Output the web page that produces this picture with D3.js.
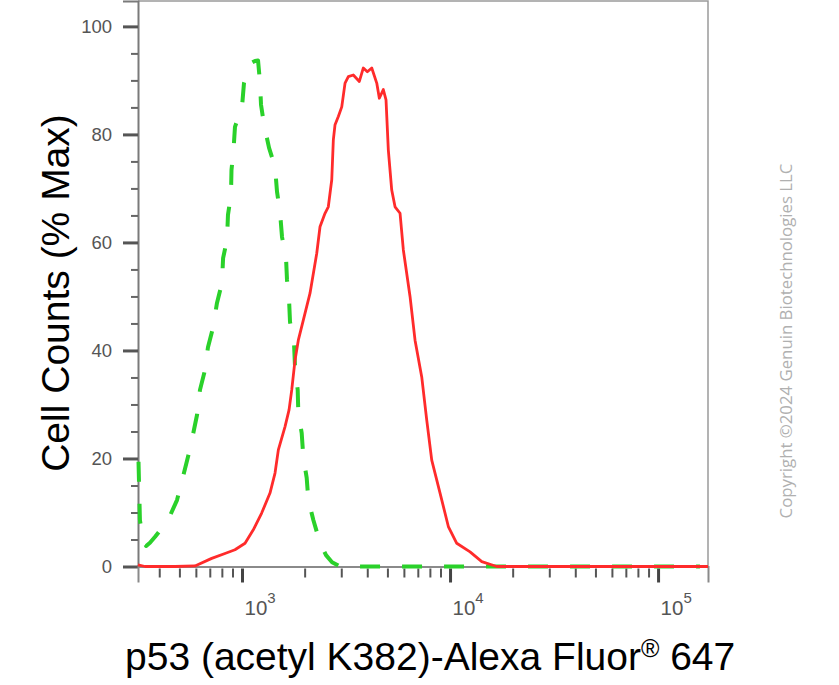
<!DOCTYPE html>
<html><head><meta charset="utf-8">
<script src="https://cdn.jsdelivr.net/npm/d3@7"></script>
<style>body{margin:0;background:#fff}</style>
</head><body><svg id="c" width="839" height="685"></svg>
<script>
// Isotype control (green dashed)
const greenIntensity = [318,323,334,346,361,382,441,487,520,550,581,608,628,664,686,725,758,801,811,847,856,885,890,910,925,1000,1022,1105,1155,1194,1220,1234,1276,1349,1441,1473,1523,1557,1627,1645,1683,1701,1778,1798,1852,1865,1936,1971,2046,2084,2202,2371,2534,2709,2959,159000];
const greenPercent   = [19.4,8.6,4.9,3.8,4.4,5.5,8.6,12.3,16.6,20.3,24.4,28.1,32.7,36.4,40.6,44.2,48.8,52.5,57.1,60.5,65.1,68.8,73.4,77.1,81.4,85.1,89.5,93.2,93.6,93.7,89.7,85.5,81.8,77.5,74.0,69.4,65.6,61.0,57.3,53.1,49.4,45.3,41.4,36.9,32.7,28.4,24.7,20.3,16.4,12.3,8.6,4.4,2.1,0.8,0,0];
// p53 (acetyl K382) stained (red)
const redIntensity = [316,342,476,594,715,828,925,1034,1133,1243,1363,1441,1495,1610,1683,1734,1798,1865,1971,2123,2287,2371,2506,2599,2700,2748,2800,2904,3016,3128,3244,3428,3664,3830,4004,4204,4443,4572,4778,4923,5051,5244,5440,5750,5964,6422,6788,7310,7727,8166,8953,9813,10770,12480,14210,16770,173800];
const redPercent   = [0.3,0,0,0.1,1.5,2.4,3.1,4.3,6.8,9.9,13.6,17.3,21.6,25.9,29.0,32.7,38.2,41.9,45.6,50.6,58.0,62.9,65.4,66.6,71.6,79.0,81.8,83.3,85.1,89.5,90.7,91.0,89.8,92.3,91.6,92.3,89.5,86.7,88.3,86.4,77.1,69.7,66.6,65.4,58.6,50.0,41.9,35.1,27.1,19.7,13.6,7.4,4.3,2.7,0.9,0,0];

const yMajorTicks = [0,20,40,60,80,100];
const yMinorTicks = [5,10,15,25,30,35,45,50,55,65,70,75,85,90,95];
const xMajorTicks = [1e3,1e4,1e5];
const xTickExponents = ["3","4","5"];
const xMinorTicks = [400,500,600,700,800,900,2000,3000,4000,5000,6000,7000,8000,9000,20000,30000,40000,50000,60000,70000,80000,90000];
const yTitle = "Cell Counts (% Max)";
const xTitleMain = "p53 (acetyl K382)-Alexa Fluor";
const xTitleSup = "®";
const xTitleEnd = " 647";
const copyright = "Copyright ©2024 Genuin Biotechnologies LLC";

const svg = d3.select("#c");
const L = 138, R = 708, T = 1, B = 566.5;
const x = d3.scaleLog().domain([316.2, 173800]).range([L, R]);
const y = d3.scaleLinear().domain([0, 104.7]).range([B, T]);

// frame (top & right)
svg.append("path")
  .attr("d", `M${L},${T}H${R}V${B}`)
  .attr("fill","none").attr("stroke","#9a9a9a").attr("stroke-width",1.5);

// Y axis
const yAxis = svg.append("g").attr("transform",`translate(${L},0)`)
  .call(d3.axisLeft(y).tickValues(yMajorTicks).tickSize(15).tickPadding(11).tickFormat(d3.format("d")));
yAxis.select(".domain").attr("stroke","#7a7a7a").attr("stroke-width",2);
yAxis.selectAll(".tick line").attr("stroke","#555").attr("stroke-width",3);
yAxis.selectAll(".tick text").attr("fill","#555").attr("font-family","Liberation Sans, Arial, sans-serif").attr("font-size",18.5);
const yMinor = svg.append("g").attr("transform",`translate(${L},0)`)
  .call(d3.axisLeft(y).tickValues(yMinorTicks).tickSize(7).tickFormat(""));
yMinor.select(".domain").remove();
yMinor.selectAll(".tick line").attr("stroke","#666").attr("stroke-width",2);

// X axis
const xAxis = svg.append("g").attr("transform",`translate(0,${B})`)
  .call(d3.axisBottom(x).tickValues(xMajorTicks).tickSize(16).tickFormat(""));
xAxis.select(".domain").attr("stroke","#8a8a8a").attr("stroke-width",2);
xAxis.selectAll(".tick line").attr("stroke","#444").attr("stroke-width",3).attr("y1",2);
xAxis.selectAll(".tick").each(function(d,i){
  const t = d3.select(this).append("text")
    .attr("x",2).attr("y",48).attr("text-anchor","start")
    .attr("fill","#555").attr("font-family","Liberation Sans, Arial, sans-serif").attr("font-size",20.5);
  t.append("tspan").text("10");
  t.append("tspan").attr("font-size",15).attr("dy",-12).text(xTickExponents[i]);
});
const xMinor = svg.append("g").attr("transform",`translate(0,${B})`)
  .call(d3.axisBottom(x).tickValues(xMinorTicks).tickSize(11).tickFormat(""));
xMinor.select(".domain").remove();
xMinor.selectAll(".tick line").attr("stroke","#555").attr("stroke-width",2).attr("y1",2);

// curves
const line = d3.line().x(d=>x(d[0])).y(d=>y(d[1]));
const greenData = greenIntensity.map((v,i)=>[v,greenPercent[i]]);
const redData = redIntensity.map((v,i)=>[v,redPercent[i]]);
svg.append("path").datum(greenData).attr("d",line)
  .attr("fill","none").attr("stroke","#2ad12a").attr("stroke-width",4)
  .attr("stroke-dasharray","20,22").attr("stroke-linejoin","round");
svg.append("path").datum(redData).attr("d",line)
  .attr("fill","none").attr("stroke","#ff2b2b").attr("stroke-width",2.8)
  .attr("stroke-linejoin","round");

// axis titles
svg.append("text")
  .attr("transform","translate(69,293) rotate(-90)")
  .attr("text-anchor","middle").attr("fill","#000")
  .attr("font-family","Liberation Sans, Arial, sans-serif").attr("font-size",39)
  .text(yTitle);
const xt = svg.append("text").attr("x",125).attr("y",670)
  .attr("fill","#000").attr("font-family","Liberation Sans, Arial, sans-serif").attr("font-size",39);
xt.append("tspan").text(xTitleMain);
xt.append("tspan").attr("font-size",25).attr("dy",-13).text(xTitleSup);
xt.append("tspan").attr("dy",13).text(xTitleEnd);

// copyright
svg.append("text")
  .attr("transform","translate(792,341) rotate(-90)")
  .attr("text-anchor","middle").attr("fill","#b0b0b0")
  .attr("font-family","Open Sans, sans-serif").attr("font-size",16.8)
  .text(copyright);
</script>
</body></html>
